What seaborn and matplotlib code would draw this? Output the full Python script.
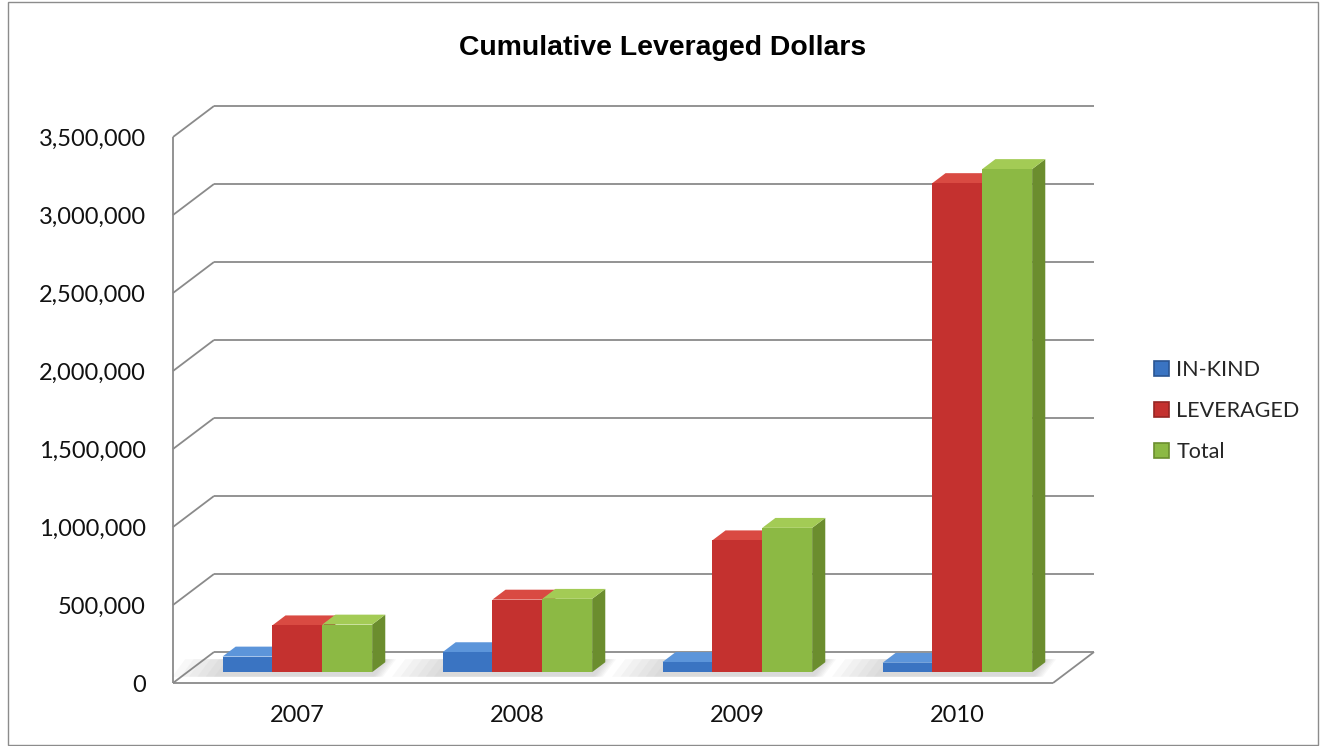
import numpy as np
import pandas as pd
import matplotlib
matplotlib.use("Agg")
import matplotlib.pyplot as plt
import seaborn as sns
from matplotlib.patches import Polygon, Rectangle, Patch
from matplotlib.transforms import ScaledTranslation

# ---- data -------------------------------------------------------------
years = ["2007", "2008", "2009", "2010"]
series = ["IN-KIND", "LEVERAGED", "Total"]
in_kind = [100000, 128000, 65000, 60000]
leveraged = [300000, 465000, 845000, 3135000]
total = [305000, 470000, 925000, 3225000]
y_ticks = list(range(0, 3500001, 500000))
y_tick_labels = [f"{v:,}" for v in y_ticks]
title = "Cumulative Leveraged Dollars"

# ---- style ------------------------------------------------------------
front_colors = {"IN-KIND": "#3A74C2", "LEVERAGED": "#C4312F", "Total": "#8CB944"}
top_colors = {"IN-KIND": "#5C95DA", "LEVERAGED": "#D94A42", "Total": "#A3CB55"}
side_colors = {"IN-KIND": "#2A5592", "LEVERAGED": "#962523", "Total": "#6B8D2E"}
grid_color = "#8A8A8A"

sns.set_theme(style="white")
plt.rcParams["font.family"] = ["Lato", "DejaVu Sans"]

W, H = 1320, 746
fig = plt.figure(figsize=(W / 100, H / 100), dpi=100)
fig.patch.set_facecolor("white")

# front plane of the 3-D box
ax = fig.add_axes([173 / W, (H - 683) / H, 880 / W, 546 / H])
ax.set_facecolor("none")

df = pd.DataFrame({
    "year": years * 3,
    "series": np.repeat(series, len(years)),
    "value": in_kind + leveraged + total,
})
sns.barplot(data=df, x="year", y="value", hue="series", order=years,
            hue_order=series, palette=front_colors, width=0.68,
            saturation=1, errorbar=None, legend=False, linewidth=0,
            ax=ax, zorder=3)

ax.set_xlim(-0.5, 3.5)
ax.set_ylim(0, 3500000)
sns.despine(ax=ax, left=True, bottom=True)
ax.set_xlabel("")
ax.set_ylabel("")
ax.set_xticks([])
ax.set_yticks(y_ticks, y_tick_labels)
ax.tick_params(axis="y", length=0, pad=27 * 0.72, labelsize=17,
               labelcolor="#111111")

# pixel -> data conversion for the oblique depth
bb = ax.get_position()
ux = 4.0 / (bb.width * W)
uy = 3500000 / (bb.height * H)
DX, DY = 41 * ux, 31 * uy          # full depth of the box
BF, BB = 0.35, 0.67                # bar front / back depth fractions

# walls and floor
gkw = dict(color=grid_color, lw=1.3, clip_on=False, zorder=1,
           solid_capstyle="butt")
for v in y_ticks:
    ax.plot([-0.5 + DX, 3.5 + DX], [v + DY, v + DY], **gkw)
    ax.plot([-0.5, -0.5 + DX], [v, v + DY], **gkw)
ax.plot([-0.5, -0.5], [0, 3500000], **gkw)
ax.plot([-0.5, 3.5], [0, 0], **gkw)
ax.plot([3.5, 3.5 + DX], [0, DY], **gkw)

# give the flat bars depth: shift fronts, add top and side faces
fx, fy = BF * DX, BF * DY
bx, by = (BB - BF) * DX, (BB - BF) * DY
for cont, name in zip(ax.containers, series):
    for bar in cont:
        x, w, h = bar.get_x(), bar.get_width(), bar.get_height()
        x0 = x + fx
        bar.set_x(x0)
        bar.set_y(fy)
        y1 = fy + h
        top = Polygon([(x0, y1), (x0 + w, y1), (x0 + w + bx, y1 + by),
                       (x0 + bx, y1 + by)], closed=True,
                      facecolor=top_colors[name], lw=0, zorder=2.5,
                      clip_on=False)
        side = Polygon([(x0 + w, fy), (x0 + w + bx, fy + by),
                        (x0 + w + bx, y1 + by), (x0 + w, y1)], closed=True,
                       facecolor=side_colors[name], lw=0, zorder=2,
                       clip_on=False)
        ax.add_patch(top)
        ax.add_patch(side)
        bar.set_clip_on(False)

# soft floor shadow behind each group of bars
group_w = 0.68
for i in range(len(years)):
    gl = i - group_w / 2 + fx
    gr = i + group_w / 2 + fx
    for k in range(6):
        spread = (k + 1) * 6 * ux
        poly = Polygon([(gl - spread * 1.4, fy - 0.15 * DY),
                        (gr + 0.3 * spread, fy - 0.15 * DY),
                        (gr + bx + 0.3 * spread, fy + by + 0.1 * DY),
                        (gl + bx - spread * 1.4, fy + by + 0.1 * DY)],
                       closed=True, facecolor="#7F7F7F", alpha=0.05, lw=0,
                       zorder=1.5, clip_on=False)
        ax.add_patch(poly)

# category labels under the floor
lab_off = ScaledTranslation(14 / 100, -33 / 100, fig.dpi_scale_trans)
for i, yr in enumerate(years):
    ax.text(i, 0, yr, transform=ax.transData + lab_off, ha="center",
            va="center", fontsize=17, color="#111111")

# title
fig.text(663 / W, 1 - 48 / H, title, ha="center", va="center",
         fontsize=20.4, fontweight="bold", family="Liberation Sans",
         color="black")

# legend
handles = [Patch(facecolor=front_colors[s], edgecolor=side_colors[s],
                 linewidth=1.2) for s in series]
fig.legend(handles, series, loc="center left",
           bbox_to_anchor=(1154 / W, 1 - 411 / H), frameon=False,
           fontsize=15.5, handlelength=0.7, handleheight=0.7,
           handletextpad=0.34, labelspacing=0.98, borderpad=0,
           borderaxespad=0)

# chart border
fig.patches.append(Rectangle((8 / W, 1 / H), 1310 / W, 743 / H,
                             transform=fig.transFigure, fill=False,
                             edgecolor="#8C8C8C", lw=1.0))

fig.savefig("out.png", dpi=100, facecolor="white")
